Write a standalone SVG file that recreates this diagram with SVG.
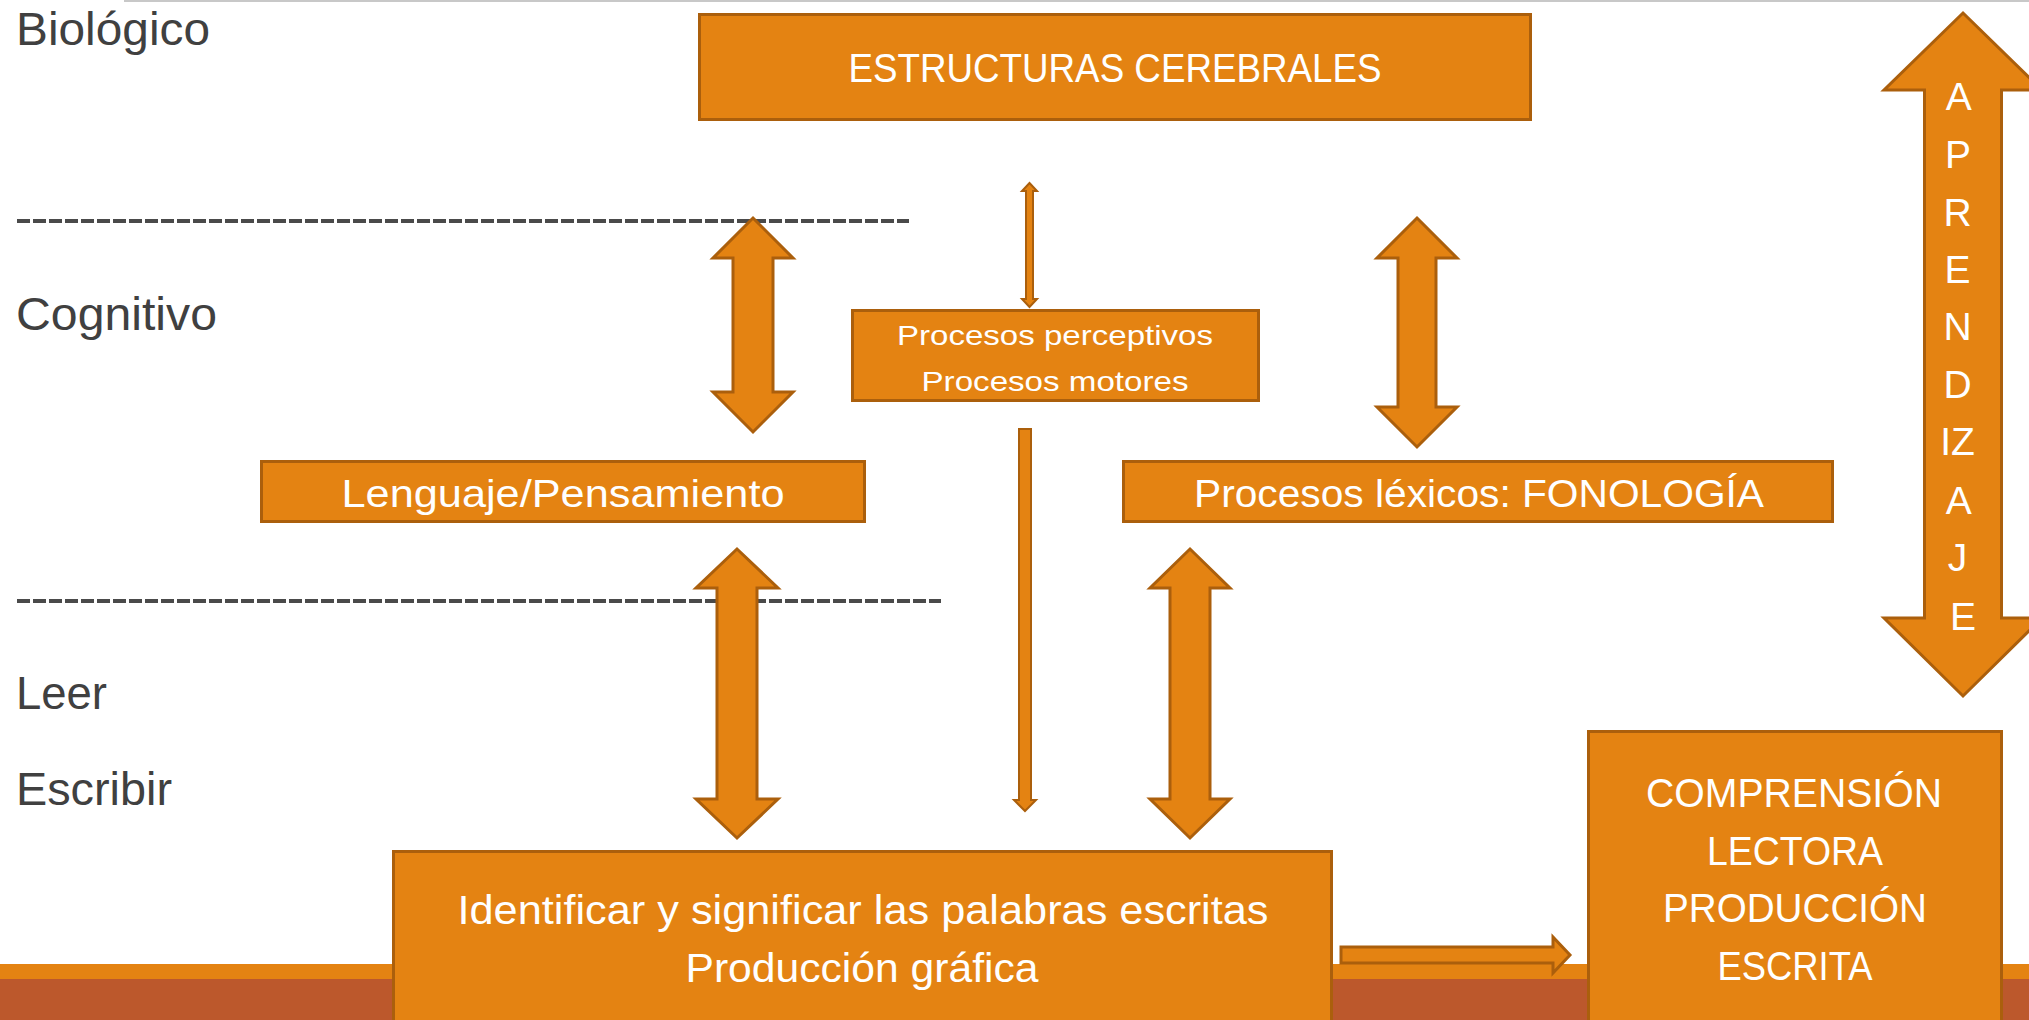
<svg xmlns="http://www.w3.org/2000/svg" width="2029" height="1020" viewBox="0 0 2029 1020">
<style>
.lbl{font-family:"Liberation Sans",Arial,sans-serif;fill:#404040;font-size:46px}
.wt{font-family:"Liberation Sans",Arial,sans-serif;fill:#ffffff;text-anchor:middle}
.box{fill:#E48312;stroke:#AB5F0C;stroke-width:3}
.arr{fill:#E48312;stroke:#AB5F0C;stroke-width:3;stroke-linejoin:miter}
.thin{fill:#E48312;stroke:#AB5F0C;stroke-width:2}
.dash{stroke:#4a4a4a;stroke-width:4;stroke-dasharray:13 3}
</style>
<rect x="0" y="0" width="2029" height="1020" fill="#ffffff"/>
<line x1="124" y1="1" x2="2029" y2="1" stroke="#c8c8c8" stroke-width="2"/>
<rect x="0" y="964" width="2029" height="15" fill="#E48312"/>
<rect x="0" y="979" width="2029" height="41" fill="#BC582C"/>

<g id="levels">
<text class="lbl" x="16" y="45" textLength="194" lengthAdjust="spacingAndGlyphs">Biológico</text>
<text class="lbl" x="16" y="330" textLength="201" lengthAdjust="spacingAndGlyphs">Cognitivo</text>
<text class="lbl" x="16" y="709" textLength="91" lengthAdjust="spacingAndGlyphs">Leer</text>
<text class="lbl" x="16" y="805" textLength="156" lengthAdjust="spacingAndGlyphs">Escribir</text>
<line class="dash" x1="17" y1="221" x2="909" y2="221"/>
<line class="dash" x1="17" y1="601" x2="941" y2="601"/>
</g>

<g id="connectors">
<path class="arr" d="M753,218 L793,258 L773,258 L773,392 L793,392 L753,432 L713,392 L733,392 L733,258 L713,258 Z"/>
<path class="arr" d="M1417,218 L1457,258 L1436,258 L1436,407 L1457,407 L1417,447 L1377,407 L1398,407 L1398,258 L1377,258 Z"/>
<path class="arr" d="M737,549 L778,588 L757,588 L757,799 L778,799 L737,838 L696,799 L717,799 L717,588 L696,588 Z"/>
<path class="arr" d="M1190,549 L1230,588 L1210,588 L1210,799 L1230,799 L1190,838 L1150,799 L1170,799 L1170,588 L1150,588 Z"/>
<path class="thin" d="M1029.5,183 L1037,191 L1033,191 L1033,299 L1037,299 L1029.5,307 L1022,299 L1026,299 L1026,191 L1022,191 Z"/>
<path class="thin" d="M1019,429 L1031,429 L1031,800 L1036,800 L1025,811 L1014,800 L1019,800 Z"/>
<path class="arr" d="M1341,947 L1553,947 L1553,937 L1570,955 L1553,973 L1553,963 L1341,963 Z"/>
</g>

<g id="n-estructuras">
<rect class="box" x="699.5" y="14.5" width="831" height="105"/>
<text class="wt" x="1115" y="82" font-size="41" textLength="533" lengthAdjust="spacingAndGlyphs">ESTRUCTURAS CEREBRALES</text>
</g>

<g id="n-procesos">
<rect class="box" x="852.5" y="310.5" width="406" height="90"/>
<text class="wt" x="1055" y="345" font-size="28" textLength="316" lengthAdjust="spacingAndGlyphs">Procesos perceptivos</text>
<text class="wt" x="1055" y="391" font-size="28" textLength="267" lengthAdjust="spacingAndGlyphs">Procesos motores</text>
</g>

<g id="n-lenguaje">
<rect class="box" x="261.5" y="461.5" width="603" height="60"/>
<text class="wt" x="563" y="507" font-size="38.5" textLength="443" lengthAdjust="spacingAndGlyphs">Lenguaje/Pensamiento</text>
</g>

<g id="n-lexicos">
<rect class="box" x="1123.5" y="461.5" width="709" height="60"/>
<text class="wt" x="1479" y="507" font-size="38.5" textLength="570" lengthAdjust="spacingAndGlyphs">Procesos léxicos: FONOLOGÍA</text>
</g>

<g id="n-identificar">
<rect class="box" x="393.5" y="851.5" width="938" height="190"/>
<text class="wt" x="863" y="924" font-size="40.5" textLength="811" lengthAdjust="spacingAndGlyphs">Identificar y significar las palabras escritas</text>
<text class="wt" x="862" y="982" font-size="40.5" textLength="353" lengthAdjust="spacingAndGlyphs">Producción gráfica</text>
</g>

<g id="n-comprension">
<rect class="box" x="1588.5" y="731.5" width="413" height="310"/>
<text class="wt" x="1794" y="807" font-size="40.5" textLength="296" lengthAdjust="spacingAndGlyphs">COMPRENSIÓN</text>
<text class="wt" x="1795" y="865" font-size="40.5" textLength="176" lengthAdjust="spacingAndGlyphs">LECTORA</text>
<text class="wt" x="1795" y="922" font-size="40.5" textLength="264" lengthAdjust="spacingAndGlyphs">PRODUCCIÓN</text>
<text class="wt" x="1795" y="980" font-size="40.5" textLength="155" lengthAdjust="spacingAndGlyphs">ESCRITA</text>
</g>

<g id="n-aprendizaje">
<path class="arr" d="M1963,13 L2042,90 L2001.5,90 L2001.5,618 L2042,618 L1963,696 L1884,618 L1924.5,618 L1924.5,90 L1884,90 Z"/>
<text class="wt" x="1963" font-size="39">
<tspan x="1963" y="110">A</tspan>
<tspan x="1963" y="168">P</tspan>
<tspan x="1963" y="226">R</tspan>
<tspan x="1963" y="283">E</tspan>
<tspan x="1963" y="340">N</tspan>
<tspan x="1963" y="398">D</tspan>
<tspan x="1963" y="455">IZ</tspan>
<tspan x="1963" y="514">A</tspan>
<tspan x="1963" y="571">J</tspan>
<tspan x="1963" y="630">E</tspan>
</text>
</g>
</svg>
